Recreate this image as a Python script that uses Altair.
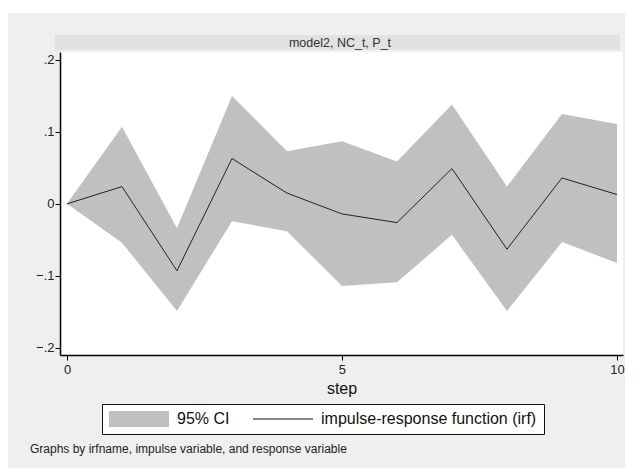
import altair as alt
import pandas as pd

# ---- data ----
steps = [0, 1, 2, 3, 4, 5, 6, 7, 8, 9, 10]
irf = [0.0, 0.024, -0.093, 0.063, 0.015, -0.014, -0.026, 0.049, -0.063, 0.036, 0.013]
ci_upper = [0.0, 0.107, -0.034, 0.150, 0.073, 0.087, 0.059, 0.138, 0.024, 0.125, 0.111]
ci_lower = [0.0, -0.054, -0.149, -0.024, -0.038, -0.114, -0.109, -0.043, -0.149, -0.053, -0.082]
legend_labels = ["95% CI", "impulse-response function (irf)"]
panel_title = ["model2, NC_t, P_t"]
note = ["Graphs by irfname, impulse variable, and response variable"]
y_ticks = [-0.2, -0.1, 0, 0.1, 0.2]
x_ticks = [0, 5, 10]

FONT = "Liberation Sans"
W, H = 563, 303

df = pd.DataFrame({"step": steps, "irf": irf, "lo": ci_lower, "hi": ci_upper})
leg_df = pd.DataFrame({"label": legend_labels})
title_df = pd.DataFrame({"t": panel_title})
note_df = pd.DataFrame({"t": note})

xscale = alt.Scale(domain=[-0.127, 10.11], nice=False, zero=False)
yscale = alt.Scale(domain=[-0.21, 0.211], nice=False, zero=False)
xaxis = alt.Axis(values=x_ticks, format="d", title="step", labelPadding=3,
                 titleFontSize=16, titleFontWeight="normal", titlePadding=4,
                 titleColor="#111")
yaxis = alt.Axis(values=y_ticks, title=None, labelPadding=1,
                 labelExpr="datum.value == 0 ? '0' : replace(format(datum.value, '.1f'), '0.', '.')")

band = alt.Chart(df).mark_area(color="#c0c0c0", opacity=1).encode(
    x=alt.X("step:Q", scale=xscale, axis=xaxis),
    y=alt.Y("lo:Q", scale=yscale, axis=yaxis),
    y2="hi:Q",
)
line = alt.Chart(df).mark_line(color="#222222", strokeWidth=1).encode(
    x=alt.X("step:Q", scale=xscale, axis=xaxis),
    y=alt.Y("irf:Q", scale=yscale, axis=yaxis),
)

top_strip = alt.Chart(title_df).mark_rect(color="white").encode(
    x=alt.value(-52), x2=alt.value(566), y=alt.value(-44), y2=alt.value(-39)
)
header = alt.Chart(title_df).mark_rect(color="#e2e2e2").encode(
    x=alt.value(-5), x2=alt.value(560), y=alt.value(-17), y2=alt.value(-2)
)
header_txt = alt.Chart(title_df).mark_text(
    font=FONT, fontSize=12.5, color="#333333", align="center", baseline="middle"
).encode(x=alt.value(280), y=alt.value(-9), text="t:N")

note_txt = alt.Chart(note_df).mark_text(
    font=FONT, fontSize=12, color="#222222", align="left", baseline="middle"
).encode(x=alt.value(-30), y=alt.value(397), text="t:N")

# legend symbols: 16px slot, path stretched to the right to 60px wide
rect_path = "M-1,-1L6.5,-1L6.5,1L-1,1Z"
line_path = "M-1,-0.07L6.5,-0.07L6.5,0.07L-1,0.07Z"
legend = alt.Legend(
    title=None, orient="none", legendX=42, legendY=352, direction="horizontal",
    columns=2, fillColor="white", strokeColor="#111111", padding=7,
    symbolSize=256, symbolStrokeWidth=0, symbolOpacity=1,
    labelFontSize=16, labelFont=FONT, labelOffset=52, columnPadding=23,
    labelLimit=400, labelColor="#111111",
)
key = alt.Chart(leg_df).mark_point(filled=True, size=256, opacity=1).encode(
    x=alt.value(-999), y=alt.value(-999),
    color=alt.Color("label:N", scale=alt.Scale(domain=legend_labels, range=["#c0c0c0", "#111111"]),
                    legend=legend),
    shape=alt.Shape("label:N", scale=alt.Scale(domain=legend_labels, range=[rect_path, line_path]),
                    legend=legend),
)

chart = alt.layer(top_strip, header, header_txt, band, line, key, note_txt).properties(
    width=W, height=H,
    autosize=alt.AutoSizeParams(type="none"),
    padding={"left": 52, "top": 44, "right": 2, "bottom": 113},
    background="#efefef",
).configure_view(fill="white", stroke=None).configure_axis(
    domainColor="#000000", domainWidth=1.5, tickColor="#000000", tickSize=5,
    labelFont=FONT, labelFontSize=13, labelColor="#222222", grid=False,
    titleFont=FONT,
)

chart.save("out.html", embed_options={"renderer": "svg", "actions": False})
